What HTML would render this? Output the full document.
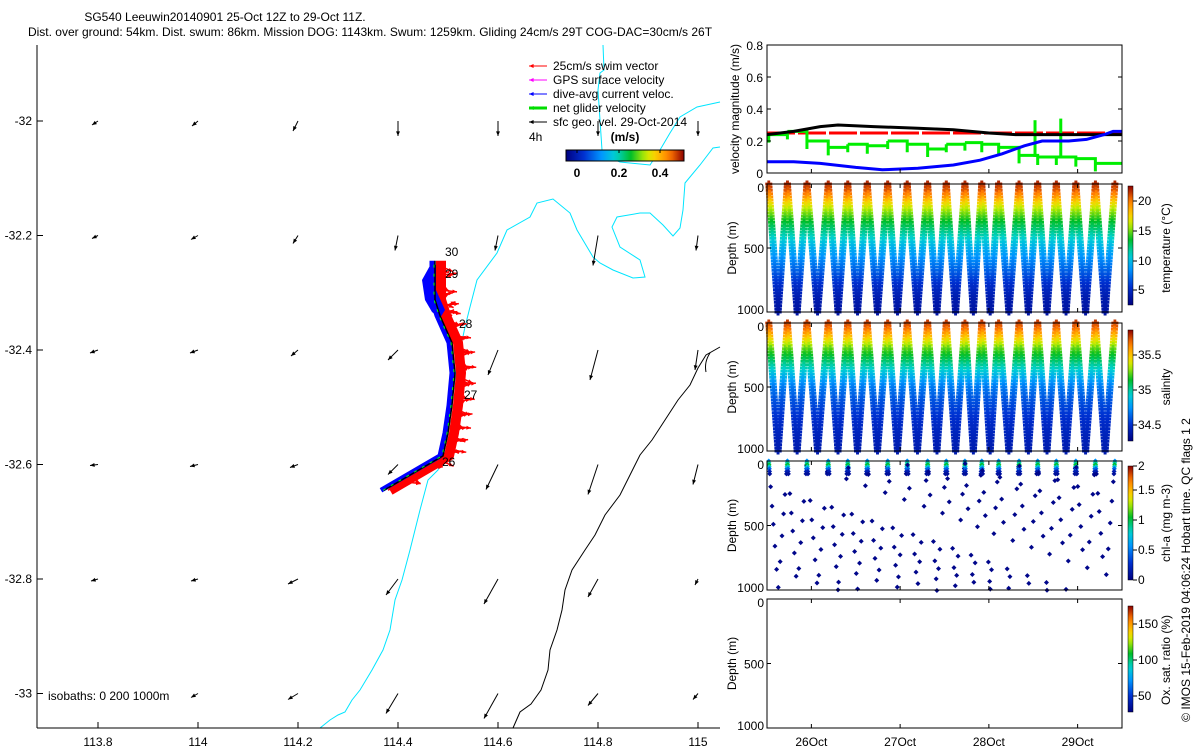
<!DOCTYPE html>
<html><head><meta charset="utf-8">
<style>
body{margin:0;background:#fff;}
svg{display:block;font-family:"Liberation Sans",sans-serif;}
</style></head>
<body>
<svg id="s" width="1200" height="750" viewBox="0 0 1200 750">
<text x="225" y="21" font-size="12" text-anchor="middle">SG540 Leeuwin20140901 25-Oct 12Z to 29-Oct 11Z.</text>
<text x="370" y="36" font-size="12" text-anchor="middle">Dist. over ground: 54km. Dist. swum: 86km. Mission DOG: 1143km. Swum: 1259km. Gliding 24cm/s 29T COG-DAC=30cm/s 26T</text>
<g id="map"></g>
<g id="right"></g>
<text transform="translate(1190,570) rotate(-90)" font-size="12" text-anchor="middle">© IMOS 15-Feb-2019 04:06:24 Hobart time. QC flags 1  2</text>
</svg>
<script>
// ---------- data ----------
const gridLons=[113.8,114,114.2,114.4,114.6,114.8,115];
const gridLats=[-32,-32.2,-32.4,-32.6,-32.8,-33];
const geoU=[[-0.06,-0.06,-0.05,0,0,0,0],[-0.06,-0.07,-0.05,-0.03,-0.03,-0.05,-0.02],[-0.08,-0.08,-0.07,-0.1,-0.1,-0.08,-0.03],[-0.08,-0.08,-0.08,-0.1,-0.12,-0.1,-0.05],[-0.07,-0.07,-0.1,-0.12,-0.14,-0.1,-0.03],[0,-0.07,-0.1,-0.12,-0.14,-0.1,-0.05]];
const geoV=[[-0.04,-0.05,-0.1,-0.15,-0.15,-0.15,-0.15],[-0.03,-0.04,-0.08,-0.15,-0.15,-0.3,-0.15],[-0.03,-0.03,-0.06,-0.1,-0.25,-0.3,-0.2],[-0.01,-0.02,-0.03,-0.1,-0.25,-0.3,-0.2],[-0.02,-0.02,-0.05,-0.16,-0.25,-0.18,-0.06],[0,-0.04,-0.06,-0.2,-0.25,-0.12,-0.06]];
const trackLon=[114.372,114.49,114.5,114.508,114.514,114.508,114.484,114.474,114.474];
const trackLat=[-32.645,-32.585,-32.545,-32.497,-32.44,-32.387,-32.34,-32.312,-32.244];
const dayLabels=["26Oct","27Oct","28Oct","29Oct"];
const dayVals=[26,27,28,29];
const blackT=[25.5,25.8,26.1,26.3,26.7,27.2,27.6,28.0,28.3,28.7,29.2,29.5];
const blackV=[0.24,0.26,0.29,0.30,0.29,0.28,0.27,0.25,0.24,0.24,0.24,0.24];
const blueT=[25.5,25.8,26.1,26.5,26.8,27.2,27.6,27.9,28.15,28.4,28.6,28.9,29.1,29.3,29.4,29.5];
const blueV=[0.07,0.07,0.06,0.035,0.02,0.03,0.05,0.08,0.12,0.17,0.2,0.2,0.21,0.24,0.26,0.26];
const diveStart=[25.52,25.73,25.95,26.19,26.41,26.63,26.86,27.08,27.31,27.52,27.73,27.92,28.11,28.34,28.55,28.76,28.98,29.2];
const greenV=[0.24,0.26,0.2,0.16,0.18,0.17,0.2,0.18,0.15,0.18,0.19,0.18,0.16,0.11,0.10,0.10,0.09,0.06];
const profDepth=[0,50,100,150,200,300,400,500,600,700,800,900,1000];
const profTemp=[22,21,19.5,17.5,16,13.5,11.5,9.5,8,6.5,5,4,3.5];
const profSal=[35.8,35.7,35.55,35.4,35.25,35.05,34.85,34.65,34.55,34.48,34.42,34.38,34.35];
const chlDepth=[0,15,30,45,60,80,100];
const chlVal=[0.6,0.9,1.1,0.8,0.45,0.2,0.1];
const chlDeep=[180,330,470,640,820,960,760,560,390,240];
// ---------- helpers ----------
const NS="http://www.w3.org/2000/svg";
function mk(p,tag,at){const e=document.createElementNS(NS,tag);for(const k in at)e.setAttribute(k,at[k]);p.appendChild(e);return e;}
function txt(p,x,y,s,at){const e=mk(p,'text',Object.assign({x:x,y:y,'font-size':12},at||{}));e.textContent=s;return e;}
const stops=[[0,[0,0,128]],[0.15,[0,48,208]],[0.3,[0,150,255]],[0.42,[0,210,210]],[0.55,[0,190,40]],[0.68,[200,240,0]],[0.76,[255,205,0]],[0.88,[255,120,0]],[1,[140,0,0]]];
function cmap(f){f=Math.max(0,Math.min(1,f));for(let i=1;i<stops.length;i++){if(f<=stops[i][0]){const a=stops[i-1],b=stops[i],t=(f-a[0])/(b[0]-a[0]);return 'rgb('+a[1].map((c,j)=>Math.round(c+(b[1][j]-c)*t)).join(',')+')';}}return 'rgb(140,0,0)';}
function interp(xs,ys,x){for(let i=1;i<xs.length;i++){if(x<=xs[i]){const t=(x-xs[i-1])/(xs[i]-xs[i-1]);return ys[i-1]+(ys[i]-ys[i-1])*t;}}return ys[ys.length-1];}
function arrow(p,x1,y1,x2,y2,col,w,hs){mk(p,'line',{x1:x1,y1:y1,x2:x2,y2:y2,stroke:col,'stroke-width':w});const a=Math.atan2(y2-y1,x2-x1);const L=Math.hypot(x2-x1,y2-y1);const h=Math.min(hs,L*0.5+2);const pts=[[x2,y2],[x2-h*Math.cos(a-0.4),y2-h*Math.sin(a-0.4)],[x2-h*Math.cos(a+0.4),y2-h*Math.sin(a+0.4)]];return mk(p,'polygon',{points:pts.map(q=>q.join(',')).join(' '),fill:col});}
// ---------- map ----------
const map=document.getElementById('map');
const X=lon=>98+(lon-113.8)*500, Y=lat=>121+(-32-lat)*572.5;
const cyan1="603,45 604,70 600,73 598,90 600,120 602,150 610,158 620,162 650,165 660,150 670,133 680,117 697,107 720,102";
const cyan2="720,147 713,148 700,165 685,183 683,210 680,228 673,236 663,225 650,213 640,213 617,217 612,227 620,247 640,260 645,277 633,278 613,270 600,263 593,257 577,230 570,213 553,199 537,203 530,217 507,230 497,253 477,280 470,307 465,327 458,360 452,400 447,440 438,470 428,480 420,510 410,550 402,580 395,600 390,630 383,650 372,670 360,690 352,700 345,712 338,715 330,720 320,728";
const black1="720,347 706,355 698,368 690,385 678,400 665,420 652,440 640,455 630,475 620,495 605,515 595,535 585,550 572,570 565,590 562,610 557,630 550,650 548,670 541,690 531,704 520,712 513,728";
let e=mk(map,'polyline',{points:cyan1,fill:'none',stroke:'#00e5ff','stroke-width':1});

e=mk(map,'polyline',{points:cyan2,fill:'none',stroke:'#00e5ff','stroke-width':1});

e=mk(map,'polyline',{points:black1,fill:'none',stroke:'#000','stroke-width':1});

mk(map,'path',{d:'M710,353 Q704,362 706,372',fill:'none',stroke:'#000'});
// geostrophic arrows
gridLats.forEach((la,i)=>gridLons.forEach((lo,j)=>{const u=geoU[i][j],v=geoV[i][j];if(u===0&&v===0)return;const x=X(lo),y=Y(la);const a=arrow(map,x,y,x+u*100,y-v*100,'#000',1,5);}));
// track
const tp=trackLon.map((lo,i)=>[X(lo),Y(trackLat[i])]);
const tpStr=off=>tp.map(p=>(p[0]+off)+','+p[1]).join(' ');
e=mk(map,'polyline',{points:tpStr(6),fill:'none',stroke:'#ff0000','stroke-width':10,'stroke-linejoin':'round'});

for(let i=0;i<tp.length-1;i++){for(let k=0;k<8;k++){const t=k/8;const x=tp[i][0]+(tp[i+1][0]-tp[i][0])*t,y=tp[i][1]+(tp[i+1][1]-tp[i][1])*t;const dx=10+(k%3)*4,dy=-6+(k%4)*4;arrow(map,x+4,y,x+4+dx,y+dy,'#ff0000',1.5,5);}}
e=mk(map,'polyline',{points:tpStr(-3),fill:'none',stroke:'#0000ff','stroke-width':5,'stroke-linejoin':'round'});

mk(map,'polygon',{points:'432,262 422,280 425,300 432,312 440,318 445,310 436,290 436,265',fill:'#0000ff'});
e=mk(map,'polyline',{points:tpStr(0),fill:'none',stroke:'#000','stroke-width':1.5});

mk(map,'polyline',{points:tpStr(-1),fill:'none',stroke:'#00ff00','stroke-width':1,'stroke-dasharray':'3,6'});
[['26',442,466],['27',464,399],['28',459,328],['29',445,278],['30',445,256]].forEach(l=>{const t=txt(map,l[1],l[2],l[0]);});
// axes
mk(map,'line',{x1:37,y1:45,x2:37,y2:728,stroke:'#000'});
mk(map,'line',{x1:37,y1:728,x2:720,y2:728,stroke:'#000'});
[113.8,114,114.2,114.4,114.6,114.8,115].forEach(v=>{const x=X(v);mk(map,'line',{x1:x,y1:728,x2:x,y2:722,stroke:'#000'});const t=txt(map,x,746,String(v),{'text-anchor':'middle'});});
[-32,-32.2,-32.4,-32.6,-32.8,-33].forEach(v=>{const y=Y(v);mk(map,'line',{x1:37,y1:y,x2:43,y2:y,stroke:'#000'});const t=txt(map,32,y+4,String(v),{'text-anchor':'end'});});
e=txt(map,48,700,'isobaths: 0  200  1000m');
// legend
const leg=mk(map,'g',{});
[['25cm/s swim vector','#ff0000',1],['GPS surface velocity','#ff00ff',1],['dive-avg current veloc.','#0000ff',1],['net glider velocity','#00dd00',3],['sfc geo. vel. 29-Oct-2014','#000',1]].forEach((r,i)=>{const y=66+i*14;arrow(leg,547,y,529,y,r[1],r[2],5);const t=txt(leg,553,y+4,r[0]);});
txt(leg,529,141,'4h');
txt(leg,625,141,'(m/s)',{'font-weight':'bold','text-anchor':'middle'});
const grad=mk(mk(map,'defs',{}),'linearGradient',{id:'gh',x1:0,y1:0,x2:1,y2:0});
const gv=mk(mk(map,'defs',{}),'linearGradient',{id:'gv',x1:0,y1:1,x2:0,y2:0});
for(let i=0;i<=20;i++){mk(grad,'stop',{offset:i/20,'stop-color':cmap(i/20)});mk(gv,'stop',{offset:i/20,'stop-color':cmap(i/20)});}
e=mk(map,'rect',{x:566,y:150,width:118,height:11,fill:'url(#gh)',stroke:'#000'});
[['0',577],['0.2',619],['0.4',660]].forEach(c=>{mk(map,'line',{x1:c[1],y1:150,x2:c[1],y2:153,stroke:'#000'});txt(map,c[1],177,c[0],{'font-weight':'bold','text-anchor':'middle'});});
// ---------- right panels ----------
const R=document.getElementById('right');
const L0=767,L1=1122,T=t=>L0+(t-25.5)*(L1-L0)/4;
const panels=[[45,173],[184,312],[323,451],[461,590],[599,728]];
function frame(top,bot,name){const r=mk(R,'rect',{x:L0,y:top,width:L1-L0,height:bot-top,fill:'none',stroke:'#000'});}
// velocity panel
const VY=v=>173-v*160;
const vp=mk(R,'g',{});
e=mk(vp,'line',{x1:L0,y1:VY(0.25),x2:L1,y2:VY(0.25),stroke:'#ff0000','stroke-width':3,'stroke-dasharray':'28,3'});
let gp='';diveStart.forEach((t,i)=>{const x1=T(t),x2=i<diveStart.length-1?T(diveStart[i+1]):L1;gp+=`M${x1},${VY(greenV[i])-0} V${VY(greenV[i]-0.05)} M${x1},${VY(greenV[i])} H${x2} `;if(i<diveStart.length-1)gp+=`V${VY(greenV[i+1])} `;});
e=mk(vp,'path',{d:gp,fill:'none',stroke:'#00ee00','stroke-width':3});
[[28.52,0.33],[28.81,0.34]].forEach(s=>mk(vp,'line',{x1:T(s[0]),y1:VY(s[1]),x2:T(s[0]),y2:VY(0.1),stroke:'#00ee00','stroke-width':3}));
e=mk(vp,'polyline',{points:blackT.map((t,i)=>T(t)+','+VY(blackV[i])).join(' '),fill:'none',stroke:'#000','stroke-width':3});
e=mk(vp,'polyline',{points:blueT.map((t,i)=>T(t)+','+VY(blueV[i])).join(' '),fill:'none',stroke:'#0000ff','stroke-width':3});
frame(45,173,'velocity-axes');
[0,0.2,0.4,0.6,0.8].forEach(v=>{const y=VY(v);mk(R,'line',{x1:L0,y1:y,x2:L0+4,y2:y,stroke:'#000'});mk(R,'line',{x1:L1,y1:y,x2:L1-4,y2:y,stroke:'#000'});txt(R,763,y+5,String(v),{'text-anchor':'end'});});
txt(R,0,0,'velocity magnitude (m/s)',{transform:'translate(739,109) rotate(-90)','text-anchor':'middle'});
// profile panels
function profilePanel(pi,valArr,vmin,vmax,name){const [top,bot]=panels[pi];const g=mk(R,'g',{});const DY=d=>top+(d/1000)*(bot-top);
diveStart.forEach((t,i)=>{const tn=i<diveStart.length-1?diveStart[i+1]:t+0.22;const tm=(t+tn)/2;for(let d=0;d<=1000;d+=25){const c=cmap((interp(profDepth,valArr,d)-vmin)/(vmax-vmin));[T(t+(tm-t)*d/1000),T(tn-(tn-tm)*d/1000)].forEach(x=>{const y=DY(d);mk(g,'path',{d:`M${x-3.5},${y}H${x+3.5}M${x},${y-3.5}V${y+3.5}`,stroke:c,'stroke-width':2.8});});}});}
profilePanel(1,profTemp,2.2,22.8,'temperature-panel');
profilePanel(2,profSal,34.2,35.9,'salinity-panel');
// chl panel
(function(){const [top,bot]=panels[3];const g=mk(R,'g',{});const DY=d=>top+(d/1000)*(bot-top);
diveStart.forEach((t,i)=>{const tn=i<diveStart.length-1?diveStart[i+1]:t+0.22;const tm=(t+tn)/2;
chlDepth.forEach((d,k)=>{const c=cmap(chlVal[k]/2);[T(t+(tm-t)*d/1000),T(tn-(tn-tm)*d/1000)].forEach(x=>mk(g,'path',{d:`M${x},${DY(d)-2.5}l2.5,2.5l-2.5,2.5l-2.5,-2.5z`,fill:c}));});
chlDeep.forEach((d0,k)=>{const d=(d0+i*53)%1000+20;const x=k<5?T(t+(tm-t)*d/1000):T(tn-(tn-tm)*d/1000);mk(g,'path',{d:`M${x},${DY(d)-2.5}l2.5,2.5l-2.5,2.5l-2.5,-2.5z`,fill:cmap(0.02)});});});})();
for(let p=1;p<5;p++){const [top,bot]=panels[p];frame(top,bot,'depth-axes-'+p);
[0,500,1000].forEach(d=>{const y=top+d/1000*(bot-top);mk(R,'line',{x1:L0,y1:y,x2:L0+4,y2:y,stroke:'#000'});mk(R,'line',{x1:L1,y1:y,x2:L1-4,y2:y,stroke:'#000'});txt(R,764,y+(d===0?8:d===1000?2:5),String(d),{'text-anchor':'end'});});
txt(R,0,0,'Depth (m)',{transform:`translate(736,${(top+bot)/2}) rotate(-90)`,'text-anchor':'middle'});
dayVals.forEach(dv=>{mk(R,'line',{x1:T(dv),y1:bot,x2:T(dv),y2:bot-4,stroke:'#000'});mk(R,'line',{x1:T(dv),y1:top,x2:T(dv),y2:top+4,stroke:'#000'});});}
dayVals.forEach(dv=>mk(R,'line',{x1:T(dv),y1:173,x2:T(dv),y2:169,stroke:'#000'}));
dayLabels.forEach((s,i)=>{const t=txt(R,T(dayVals[i]),746,s,{'text-anchor':'middle'});});
// colorbars
const cbs=[[186,305,'temperature (°C)',[[20,201],[15,231],[10,261],[5,290]],248],[330,441,'salinity',[[35.5,355],[35,390],[34.5,425]],387],[466,580,'chl-a (mg m-3)',[[2,466],[1.5,490],[1,520],[0.5,550],[0,580]],523],[606,712,'Ox. sat. ratio (%)',[[150,624],[100,660],[50,696]],660]];
cbs.forEach(c=>{const r=mk(R,'rect',{x:1128,y:c[0],width:5,height:c[1]-c[0],fill:'url(#gv)',stroke:'#000','stroke-width':0.5});
c[3].forEach(k=>{mk(R,'line',{x1:1133,y1:k[1],x2:1137,y2:k[1],stroke:'#000'});txt(R,1138,k[1]+4,String(k[0]));});
txt(R,0,0,c[2],{transform:`translate(1170,${c[4]}) rotate(-90)`,'text-anchor':'middle'});});
</script>
</body></html>
